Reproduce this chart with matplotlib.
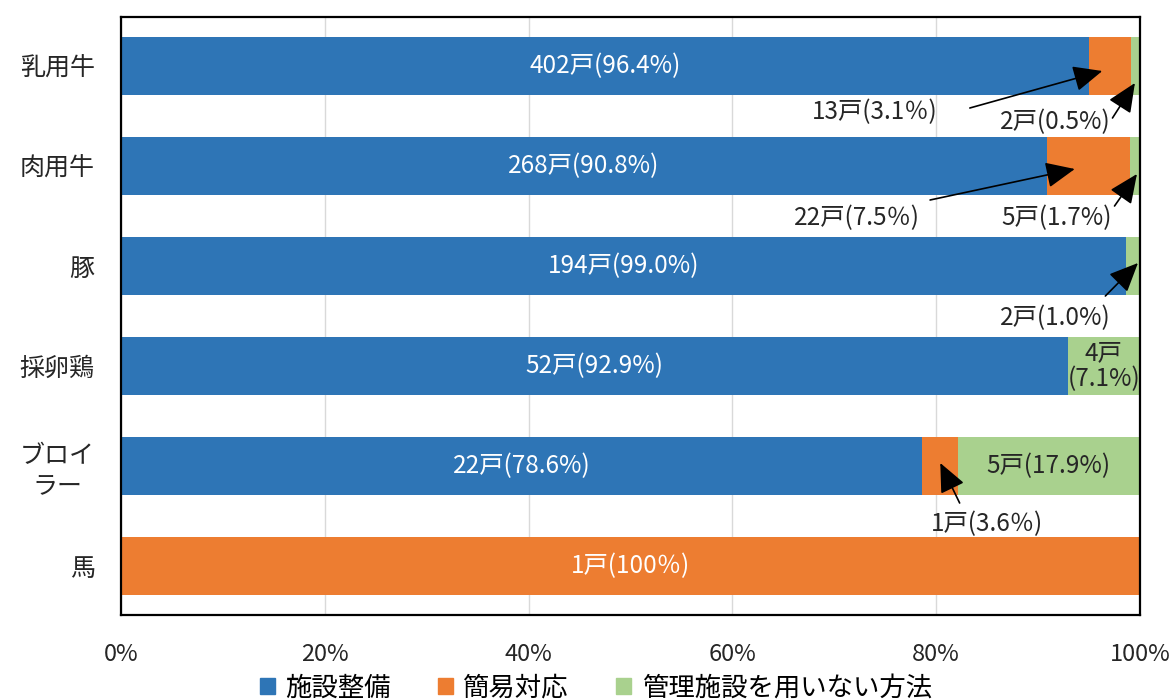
import matplotlib.pyplot as plt
from matplotlib.patches import Patch

plt.rcParams['font.family'] = ['Noto Sans CJK JP', 'DejaVu Sans']

# categories (top to bottom) and shares (%)
categories = ['乳用牛', '肉用牛', '豚', '採卵鶏', 'ブロイ\nラー', '馬']
facility = [95.0, 90.9, 98.6, 92.9, 78.6, 0.0]
simple = [4.1, 8.1, 0.0, 0.0, 3.5, 100.0]
no_facility = [0.9, 1.0, 1.4, 7.1, 17.9, 0.0]

series_names = ['施設整備', '簡易対応', '管理施設を用いない方法']
colors = ['#2E75B6', '#ED7D31', '#A9D18E']

# labels inside the segments (None = no label)
facility_labels = ['402戸(96.4%)', '268戸(90.8%)', '194戸(99.0%)', '52戸(92.9%)', '22戸(78.6%)', None]
simple_labels = [None, None, None, None, None, '1戸(100％)']
no_facility_labels = [None, None, None, '4戸\n(7.1%)', '5戸(17.9%)', None]

# callout labels: text, text position, arrow tail, arrow head (data coords)
callouts = [
    ('13戸(3.1％)', (74.0, 0.46), (83.3, 0.42), (96.3, 0.05)),
    ('2戸(0.5%)', (91.7, 0.56), (97.3, 0.52), (99.5, 0.17)),
    ('22戸(7.5％)', (72.2, 1.52), (79.4, 1.34), (93.6, 1.03)),
    ('5戸(1.7%)', (91.8, 1.52), (97.5, 1.40), (99.7, 1.08)),
    ('2戸(1.0%)', (91.7, 2.52), (96.6, 2.30), (99.8, 1.97)),
    ('1戸(3.6％)', (85.0, 4.58), (82.3, 4.37), (80.4, 3.97)),
]

fig = plt.figure(figsize=(11.74, 6.99), dpi=100)
ax = fig.add_axes([121 / 1174, 1 - 615 / 699, 1019 / 1174, 598 / 699])

y = list(range(len(categories)))
left = [0.0] * len(categories)
all_vals = [facility, simple, no_facility]
all_labels = [facility_labels, simple_labels, no_facility_labels]
text_colors = ['white', 'white', '#262626']
for vals, lab, col, tcol in zip(all_vals, all_labels, colors, text_colors):
    ax.barh(y, vals, left=left, height=0.58, color=col, zorder=2)
    for i, (v, l) in enumerate(zip(vals, lab)):
        if l is not None:
            ax.text(left[i] + v / 2, i, l, ha='center', va='center',
                    color=tcol, fontsize=17.5, zorder=3, linespacing=1.0)
    left = [a + b for a, b in zip(left, vals)]

for text, tpos, tail, head in callouts:
    ax.text(tpos[0], tpos[1], text, ha='center', va='center', fontsize=17.5,
            color='#262626', zorder=4)
    ax.annotate('', xy=head, xytext=tail,
                arrowprops=dict(arrowstyle='-|>,head_length=0.9,head_width=0.4',
                                color='black', lw=1.2, mutation_scale=20,
                                shrinkA=0, shrinkB=0), zorder=4)

ax.set_xlim(0, 100)
ax.set_ylim(5.49, -0.49)
ax.set_xticks([0, 20, 40, 60, 80, 100])
ax.set_xticklabels(['0%', '20%', '40%', '60%', '80%', '100%'])
ax.set_yticks(y)
ax.set_yticklabels(categories)
for t in ax.get_yticklabels():
    t.set_multialignment('center')
ax.tick_params(axis='x', length=0, pad=20, labelsize=17, colors='#262626')
ax.tick_params(axis='y', length=0, pad=19, labelsize=18, colors='#262626')
ax.grid(axis='x', color='#D9D9D9', lw=1, zorder=0)
for s in ax.spines.values():
    s.set_color('black')
    s.set_linewidth(1.6)

handles = [Patch(color=c) for c in colors]
fig.legend(handles, series_names, loc='center', bbox_to_anchor=(596 / 1174, 1 - 688 / 699),
           ncol=3, frameon=False, fontsize=19, handlelength=0.55, handleheight=0.55,
           handletextpad=0.4, columnspacing=1.8)

fig.savefig('out.png', dpi=100)
